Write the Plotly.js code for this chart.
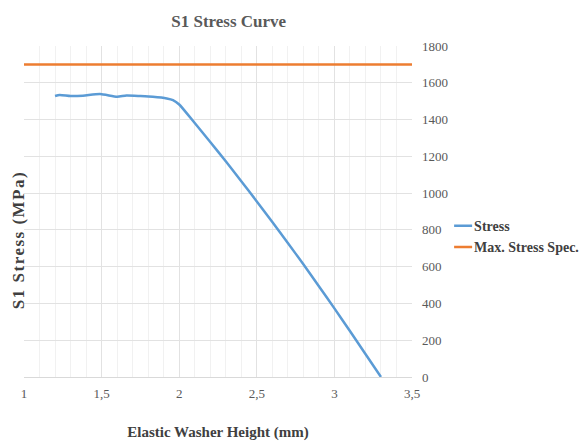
<!DOCTYPE html>
<html>
<head>
<meta charset="utf-8">
<script src="https://cdn.plot.ly/plotly-3.0.1.min.js"></script>
<style>
  html, body { margin: 0; padding: 0; background: #ffffff; }
  #chart { width: 582px; height: 444px; }
  /* the vertical axis caption is set a little spaced out */
  #chart .annotation-text { letter-spacing: 1.5px; }
  /* short legend keys sitting right before their labels */
  #chart .legend .legendlines { transform: translateX(17px) scaleX(0.6); }
</style>
</head>
<body>
<div id="chart"></div>
<script>
// Elastic washer height (mm) and the S1 stress computed at each height (MPa)
const washerHeight = [1.2, 1.23, 1.3, 1.38, 1.49, 1.6, 1.66, 1.75, 1.83, 1.92, 1.96, 2.0,
                      2.1, 2.2, 2.3, 2.4, 2.5, 2.6, 2.7, 2.8, 2.9, 3.0, 3.1, 3.2, 3.3];
const s1Stress = [1528, 1534, 1528, 1530, 1539, 1524, 1531, 1528, 1524, 1515, 1506, 1482,
                  1381, 1278, 1173, 1065, 955, 843, 729, 613, 494, 373, 250, 125, 0];

// Allowed maximum stress, constant across the height range
const specHeight = [1, 3.5];
const specStress = [1700, 1700];

// Axis tick labels (decimal comma)
const xTickVals = [1, 1.5, 2, 2.5, 3, 3.5];
const xTickText = ['1', '1,5', '2', '2,5', '3', '3,5'];
const yTickVals = [0, 200, 400, 600, 800, 1000, 1200, 1400, 1600, 1800];

const serif = 'Liberation Serif, Times New Roman, serif';

const traces = [
  {
    x: washerHeight, y: s1Stress, name: 'Stress',
    type: 'scatter', mode: 'lines',
    line: { color: '#5b9bd5', width: 2.5, shape: 'spline', smoothing: 0.6 }
  },
  {
    x: specHeight, y: specStress, name: 'Max. Stress Spec.',
    type: 'scatter', mode: 'lines',
    line: { color: '#ed7d31', width: 2.5 }
  }
];

const layout = {
  width: 582, height: 444,
  margin: { l: 24, r: 170, t: 46, b: 67, autoexpand: false },
  paper_bgcolor: '#ffffff', plot_bgcolor: '#ffffff',
  font: { family: serif, color: '#595959', size: 13 },
  title: {
    text: '<b>S1 Stress Curve</b>',
    font: { family: serif, size: 17, color: '#595959' },
    x: 0.393, xanchor: 'center', y: 0.953, yanchor: 'middle'
  },
  xaxis: {
    range: [1, 3.5],
    tickvals: xTickVals, ticktext: xTickText,
    showgrid: true, gridcolor: '#e2e2e2', gridwidth: 1,
    minor: { dtick: 0.1, showgrid: true, gridcolor: '#f1f1f1', gridwidth: 1 },
    zeroline: false, showline: false, ticks: '',
    ticklabelstandoff: 7,
    tickfont: { family: serif, size: 13, color: '#595959' },
    title: {
      text: '<b>Elastic Washer Height (mm)</b>',
      font: { family: serif, size: 15, color: '#404040' },
      standoff: 26
    }
  },
  yaxis: {
    range: [0, 1800], side: 'right',
    tickvals: yTickVals,
    showgrid: true, gridcolor: '#e2e2e2', gridwidth: 1,
    zeroline: true, zerolinecolor: '#d9d9d9', zerolinewidth: 1,
    showline: false, ticks: '',
    ticklabelstandoff: 9,
    tickfont: { family: serif, size: 13, color: '#595959' }
  },
  legend: {
    x: 1.057, xanchor: 'left', y: 0.424, yanchor: 'middle',
    font: { family: serif, size: 14, color: '#404040', weight: 'bold' },
    bgcolor: 'rgba(0,0,0,0)', borderwidth: 0,
    traceorder: 'normal'
  },
  annotations: [
    {
      text: '<b>S1 Stress (MPa)</b>',
      xref: 'paper', yref: 'paper',
      x: -0.013, y: 0.414, xanchor: 'center', yanchor: 'middle',
      textangle: -90, showarrow: false,
      font: { family: serif, size: 17, color: '#404040' }
    }
  ],
  showlegend: true
};

Plotly.newPlot('chart', traces, layout, { staticPlot: true, displayModeBar: false });
</script>
</body>
</html>
